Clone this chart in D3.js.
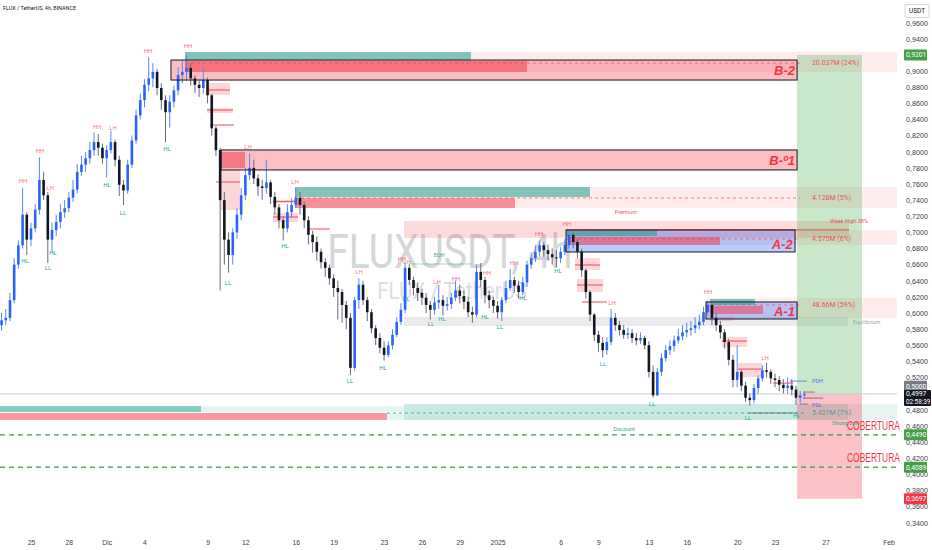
<!DOCTYPE html>
<html><head><meta charset="utf-8">
<script src="https://cdn.jsdelivr.net/npm/d3@7"></script>
<style>body{margin:0;background:#fff;} svg{display:block;font-family:Roboto,"Liberation Sans",sans-serif;}</style>
</head><body><svg id="c" width="932" height="550"></svg>
<script>
// ---------- DATA ----------
const title = "FLUX / TetherUS, 4h, BINANCE";
const candleStart = new Date(2024,10,22,16);   // first 8h candle
const candleStepHours = 8;
const firstOpen = 0.585;
const closes = [
.591,.594,.616,.660,.684,.722,.691,.705,.728,.765,
.746,.691,.703,.713,.725,.730,.743,.753,.775,.784,
.792,.802,.812,.805,.792,.802,.812,.790,.759,.752,
.784,.814,.845,.864,.883,.891,.899,.879,.864,.849,
.862,.876,.895,.899,.904,.891,.883,.879,.889,.870,
.829,.802,.740,.691,.672,.700,.722,.746,.771,.780,
.767,.757,.755,.762,.744,.731,.715,.705,.725,.734,
.743,.734,.715,.697,.688,.676,.663,.656,.643,.631,
.626,.610,.594,.532,.616,.635,.616,.601,.581,.569,
.557,.548,.560,.573,.589,.604,.656,.641,.631,.625,
.619,.610,.604,.613,.616,.609,.611,.619,.628,.621,
.614,.601,.598,.651,.641,.622,.616,.609,.601,.616,
.631,.641,.634,.626,.638,.660,.668,.676,.684,.678,
.673,.669,.668,.676,.684,.697,.688,.676,.653,.626,
.598,.573,.563,.554,.564,.594,.585,.579,.573,.575,
.569,.566,.569,.560,.527,.498,.527,.544,.554,.559,
.566,.571,.576,.579,.581,.585,.589,.601,.610,.594,
.585,.576,.564,.542,.517,.527,.510,.495,.492,.507,
.519,.529,.527,.519,.517,.511,.507,.510,.505,.495,
.498,.4997];
const highs = [
.600,.605,.625,.668,.690,.755,.725,.712,.735,.793,
.775,.750,.712,.722,.735,.740,.750,.765,.785,.795,
.800,.812,.824,.822,.810,.808,.826,.815,.795,.765,
.790,.820,.852,.872,.890,.917,.910,.903,.885,.870,
.870,.882,.905,.912,.920,.910,.895,.888,.905,.892,
.872,.832,.805,.750,.700,.705,.730,.755,.780,.798,
.790,.772,.765,.790,.765,.750,.735,.720,.735,.742,
.755,.750,.738,.720,.702,.695,.680,.668,.660,.648,
.640,.630,.615,.600,.620,.643,.640,.620,.605,.585,
.575,.565,.565,.580,.595,.612,.663,.660,.645,.638,
.630,.625,.615,.620,.635,.622,.620,.625,.640,.635,
.628,.620,.608,.660,.662,.645,.628,.620,.615,.620,
.640,.655,.645,.640,.645,.665,.675,.684,.690,.688,
.685,.680,.678,.682,.692,.701,.700,.692,.680,.655,
.628,.600,.578,.570,.570,.605,.600,.590,.585,.582,
.580,.575,.576,.572,.565,.535,.532,.550,.560,.566,
.572,.580,.585,.588,.590,.595,.598,.608,.615,.612,
.600,.590,.580,.568,.548,.560,.530,.515,.500,.512,
.523,.535,.538,.530,.525,.522,.518,.520,.518,.510,
.503,.503];
const lows = [
.578,.585,.590,.612,.655,.680,.672,.683,.700,.722,
.740,.662,.675,.695,.705,.718,.725,.738,.748,.770,
.775,.785,.795,.795,.785,.768,.798,.782,.745,.734,
.748,.780,.810,.840,.855,.875,.880,.870,.852,.812,
.830,.855,.870,.885,.888,.882,.873,.868,.872,.860,
.820,.795,.628,.660,.650,.660,.692,.715,.740,.765,
.760,.745,.740,.748,.735,.722,.705,.690,.700,.718,
.730,.722,.705,.685,.675,.665,.655,.645,.635,.620,
.592,.588,.580,.523,.528,.605,.610,.590,.575,.560,
.550,.541,.545,.555,.570,.585,.600,.635,.622,.615,
.610,.600,.592,.598,.605,.597,.603,.605,.615,.612,
.605,.595,.588,.595,.632,.612,.606,.600,.593,.590,
.612,.628,.625,.618,.622,.632,.655,.663,.670,.670,
.665,.660,.657,.662,.672,.680,.680,.668,.645,.618,
.590,.565,.552,.545,.548,.560,.578,.572,.568,.568,
.563,.560,.562,.555,.520,.495,.497,.522,.540,.548,
.552,.562,.566,.570,.572,.575,.580,.585,.598,.585,
.578,.568,.556,.535,.508,.508,.503,.490,.485,.488,
.500,.515,.520,.512,.508,.503,.500,.500,.498,.486,
.488,.494];

// Time axis
const tickDates = [[2024,10,25],[2024,10,28],[2024,11,1],[2024,11,4],[2024,11,9],[2024,11,12],[2024,11,16],[2024,11,19],[2024,11,23],[2024,11,26],[2024,11,29],[2025,0,1],[2025,0,6],[2025,0,9],[2025,0,13],[2025,0,16],[2025,0,20],[2025,0,23],[2025,0,27],[2025,1,1]];
const tickLabels = ["25","28","Dic","4","9","12","16","19","23","26","29","2025","6","9","13","16","20","23","27","Feb"];
const priceTicks = d3.range(17, 49).map(k => k*0.02);

// zones: [dayFrom, dayTo, priceTop, priceBottom] (days from 25 Nov 2024)
const pinkBands = [[12.21,68.67,0.9237,0.8989],[20.94,68.67,0.7563,0.7303],[42.43,68.67,0.7030,0.6844],[53.53,68.67,0.6187,0.5939]];
const premiumBand = [[29.58,64.87,0.7141,0.6931]];
const discountBand = [[29.58,64.79,0.4871,0.4673]];
const discountExt = [[64.79,68.67,0.4871,0.4673],[13.48,29.58,0.4846,0.4772],[28.23,29.58,0.4760,0.4673]];
const equilibrium = [[29.58,64.79,0.5951,0.5839]];
const pinkBoxes = [[11.10,60.75,0.9137,0.8889],[15.07,60.75,0.8022,0.7774]];
const blueBoxes = [[42.43,60.59,0.7030,0.6757],[53.53,60.75,0.6137,0.5926]];
const tealBars = [[12.21,34.89,0.9237,0.9137],[20.94,44.33,0.7563,0.7439],[42.43,49.64,0.7030,0.6956],[53.85,57.41,0.6174,0.6100],[-2.46,13.48,0.4846,0.4772]];
const redBars = [[12.21,39.33,0.9125,0.8989],[20.94,38.38,0.7427,0.7303],[42.74,54.64,0.6943,0.6844],[53.85,58.05,0.6088,0.5988],[-2.46,28.23,0.4760,0.4673],[15.07,16.97,0.7998,0.7799]];
const obRects = [[13.96,15.78,0.8852,0.8704],[13.96,16.02,0.8542,0.8480],[15.0,16.57,0.7774,0.7278],[19.19,21.09,0.7402,0.7365],[19.19,21.17,0.7241,0.7129],[43.14,45.12,0.6683,0.6534],[43.30,45.36,0.6422,0.6261],[53.85,55.67,0.5951,0.5902],[54.80,56.78,0.5703,0.5578],[56.07,57.97,0.5380,0.5206]];
const obLines = [[13.96,15.78,0.8766],[13.96,16.02,0.8517],[14.19,16.10,0.8331],[14.67,16.57,0.7625],[19.19,21.09,0.7383],[19.19,21.17,0.7191],[21.89,23.71,0.7042],[43.14,45.12,0.6596],[43.30,45.36,0.6348],[43.69,45.68,0.6137],[54.80,56.78,0.5653],[56.07,57.97,0.5305],[58.84,60.43,0.5131],[61.22,62.17,0.5020],[42.43,64.87,0.7030]];
const volLines = [[12.21,61.0,0.9100],[20.94,61.0,0.7427],[42.43,61.0,0.6918],[53.53,61.0,0.6100]];
const volTexts = ["20.037M (24%)","4.128M (5%)","4.575M (6%)","48.66M (59%)"];
const lowLine = [[28.23,61.5,0.4760]]; const lowText = "5.427M (7%)";
const textDay = 61.93;
const coverLevels = [0.4490, 0.4089];
const coverTextPrices = [0.4600, 0.4203];
const position = {from:60.75, to:65.90, target:0.9201, entry:0.5000, stop:0.3697};
const lastPrice = 0.4997, countdown = "02:58:39";
const zoneNames = [["B-2",60.59,0.9013],["B-º1",60.59,0.7898],["A-2",60.40,0.6856],["A-1",60.59,0.6026]];
const highLabels = [["HH",-0.63,0.7637],["LH",1.51,0.7550],["HH",0.71,0.8009],["HH",5.23,0.8307],["LH",6.50,0.8294],["HH",9.28,0.9249],["HH",12.45,0.9311],["LH",17.21,0.8059],["LH",20.94,0.7625],["LH",26.01,0.6509],["HH",29.42,0.6670],["LH",29.82,0.6633],["LH",32.20,0.6385],["HH",33.70,0.6422],["HH",36.16,0.6497],["HH",38.30,0.6621],["HH",40.29,0.6981],["HH",42.51,0.7104],["LH",46.08,0.6125],["HH",53.69,0.6261],["LH",58.21,0.5442]];
const lowLabels = [["HL",-0.48,0.6645],["LL",1.35,0.6558],["HL",1.74,0.6744],["HL",6.03,0.7588],["LL",7.30,0.7240],["HL",10.79,0.8034],["LL",15.62,0.6372],["HL",20.14,0.6831],["LL",25.30,0.5156],["HL",27.91,0.5318],["HL",29.74,0.6174],["LL",31.72,0.5864],["HL",32.59,0.5926],["HL",36.00,0.5951],["LL",37.19,0.5827],["HL",39.01,0.6187],["HL",41.79,0.6521],["LL",45.36,0.5368],["LL",49.25,0.4871],["LL",56.86,0.4697],["HL",60.75,0.4722]];
const smallTexts = [["Premium",47.18,0.7250,"#f23645","middle"],["Weak High 38%",64.87,0.7141,"#f23645","middle"],["Equilibrium",65.19,0.5889,"#9598a1","start"],["Discount",47.03,0.4562,"#089981","middle"],["Strong Low",63.52,0.4637,"#089981","start"],["EQH",32.36,0.6720,"#089981","middle"],["PDH",61.93,0.5156,"#2962ff","start"],["PDL",61.93,0.4858,"#2962ff","start"]];
const eqhLine = [[29.90,34.97,0.6608]];
const pdLines = [[60.19,61.54,0.5156],[60.98,61.62,0.4871]];
const grayLines = [[61.22,62.81,0.4945],[56.86,60.75,0.4760]];

// ---------- SCALES ----------
const W = 932, H = 550, plotR = 897;
const base = new Date(2024,10,25);
const D = d => new Date(base.getTime() + d*864e5);
const x = d3.scaleTime().domain([D(-2.458), D(68.675)]).range([0, plotR]);
const y = d3.scaleLinear().domain([0.34, 0.96]).range([522.7, 22.7]);
const X = d => x(D(d));

const svg = d3.select("#c");
svg.append("rect").attr("width",W).attr("height",H).attr("fill","#fff");
const plot = svg.append("g");

// watermark
plot.append("text").attr("x",X(33.2)).attr("y",y(0.6555)).attr("text-anchor","middle")
  .attr("font-size",48).attr("textLength",245).attr("lengthAdjust","spacingAndGlyphs")
  .attr("fill","#787b86").attr("opacity",0.3).text("FLUXUSDT, 4h");
plot.append("text").attr("x",X(33.4)).attr("y",y(0.6180)).attr("text-anchor","middle")
  .attr("font-size",24).attr("textLength",150).attr("lengthAdjust","spacingAndGlyphs")
  .attr("fill","#787b86").attr("opacity",0.25).text("FLUX / TetherUS");

function rects(data, fill, stroke) {
  plot.append("g").selectAll("rect").data(data).join("rect")
    .attr("x", d => X(d[0])).attr("width", d => X(d[1]) - X(d[0]))
    .attr("y", d => y(d[2])).attr("height", d => y(d[3]) - y(d[2]))
    .attr("fill", fill).attr("stroke", stroke || "none").attr("stroke-width", 1);
}
function hlines(data, color, dash, w) {
  plot.append("g").selectAll("line").data(data).join("line")
    .attr("x1", d => X(d[0])).attr("x2", d => X(d[1]))
    .attr("y1", d => y(d[2])).attr("y2", d => y(d[2]))
    .attr("stroke", color).attr("stroke-width", w || 1).attr("stroke-dasharray", dash || null);
}

rects(pinkBands, "rgba(242,54,69,0.10)");
rects(premiumBand, "rgba(242,54,69,0.18)");
rects(equilibrium, "rgba(120,123,134,0.15)");
rects(discountBand, "rgba(8,153,129,0.22)");
rects(discountExt, "rgba(8,153,129,0.10)");
rects(pinkBoxes, "rgba(242,54,69,0.32)");
rects(blueBoxes, "rgba(41,98,255,0.32)");
rects(tealBars, "rgba(8,153,129,0.5)");
rects(redBars, "rgba(242,54,69,0.5)");
rects(obRects, "rgba(242,54,69,0.2)");
hlines(obLines, "rgba(242,54,69,0.75)", null, 1.2);
hlines(eqhLine, "rgba(8,153,129,0.35)");
hlines(pdLines, "#5b86f5");
hlines(grayLines, "#787b86");

// position tool
plot.append("rect").attr("x",X(position.from)).attr("width",X(position.to)-X(position.from))
  .attr("y",y(position.target)).attr("height",y(position.entry)-y(position.target)).attr("fill","rgba(76,175,80,0.3)");
plot.append("rect").attr("x",X(position.from)).attr("width",X(position.to)-X(position.from))
  .attr("y",y(position.entry)).attr("height",y(position.stop)-y(position.entry)).attr("fill","rgba(242,54,69,0.3)");

// price line
plot.append("line").attr("x1",0).attr("x2",plotR).attr("y1",y(lastPrice)).attr("y2",y(lastPrice)).attr("stroke","#c9cbd1");

// coverage lines
hlines(coverLevels.map(p => [-2.46, 68.67, p]), "#2e9e4a", "5,4", 1.3);
rects([[-2.46,68.67,0.4490,0.4490]], "none");

hlines(volLines, "rgba(242,54,69,0.6)", "3,3");
hlines(lowLine, "rgba(8,153,129,0.7)", "3,3");
plot.append("g").selectAll("text").data(volLines).join("text")
  .attr("x", X(textDay)).attr("y", d => y(d[2])).attr("dy","0.35em")
  .attr("font-size",7).attr("fill","rgba(242,54,69,0.85)").text((d,i) => volTexts[i]);
plot.append("text").attr("x",X(textDay)).attr("y",y(lowLine[0][2])).attr("dy","0.35em")
  .attr("font-size",7).attr("fill","#4f9a8c").text(lowText);

// candles
const candles = closes.map((c,i) => {
  const o = i === 0 ? firstOpen : closes[i-1];
  return {t: new Date(candleStart.getTime() + i*candleStepHours*36e5), o, c,
          h: Math.max(highs[i], o, c), l: Math.min(lows[i], o, c)};
});
const cg = plot.append("g");
cg.selectAll("line").data(candles).join("line")
  .attr("x1", d => x(d.t)).attr("x2", d => x(d.t))
  .attr("y1", d => y(d.h)).attr("y2", d => y(d.l))
  .attr("stroke", d => d.c >= d.o ? "#5b86f5" : "#6a6d78").attr("stroke-width", 1);
cg.selectAll("rect").data(candles).join("rect")
  .attr("x", d => x(d.t) - 1.3).attr("width", 2.6)
  .attr("y", d => y(Math.max(d.o,d.c))).attr("height", d => Math.max(1, Math.abs(y(d.o)-y(d.c))))
  .attr("fill", d => d.c >= d.o ? "#2962ff" : "#131722");

// structure labels
plot.append("g").selectAll("text").data(highLabels).join("text")
  .attr("x", d => X(d[1])).attr("y", d => y(d[2])).attr("dy","0.35em").attr("text-anchor","middle")
  .attr("font-size",6).attr("fill","#f7525f").attr("opacity",0.8).text(d => d[0]);
plot.append("g").selectAll("text").data(lowLabels).join("text")
  .attr("x", d => X(d[1])).attr("y", d => y(d[2])).attr("dy","0.35em").attr("text-anchor","middle")
  .attr("font-size",6).attr("fill","#22ab94").text(d => d[0]);
plot.append("g").selectAll("text").data(smallTexts).join("text")
  .attr("x", d => X(d[1])).attr("y", d => y(d[2])).attr("dy","0.35em").attr("text-anchor", d => d[4])
  .attr("font-size",5.5).attr("fill", d => d[3]).attr("opacity",0.85).text(d => d[0]);

// outlines (on top)
rects(pinkBoxes, "none", "#131722");
rects(blueBoxes, "none", "#131722");

// zone names
plot.append("g").selectAll("text").data(zoneNames).join("text")
  .attr("x", d => X(d[1])).attr("y", d => y(d[2])).attr("dy","0.36em").attr("text-anchor","end")
  .attr("font-size",13).attr("font-weight","bold").attr("font-style","italic")
  .attr("font-family","'Liberation Sans',Arial,sans-serif").attr("fill","#f23645").text(d => d[0]);

// COBERTURA
plot.append("g").selectAll("text").data(coverTextPrices).join("text")
  .attr("x", X(64.71)).attr("y", d => y(d)).attr("dy","0.36em")
  .attr("font-size",12.5).attr("textLength",53).attr("lengthAdjust","spacingAndGlyphs")
  .attr("font-family","'Liberation Sans Narrow','Liberation Sans',sans-serif").attr("fill","#f23645").text("COBERTURA");

// title
svg.append("text").attr("x",3).attr("y",10).attr("font-size",6.2).attr("textLength",73)
  .attr("lengthAdjust","spacingAndGlyphs").attr("fill","#131722").text(title);

// ---------- AXES ----------
const fmt = v => d3.format(".4f")(v).replace(".", ",");
const yAxis = svg.append("g").attr("transform",`translate(${plotR+6},0)`)
  .call(d3.axisRight(y).tickValues(priceTicks.filter(v => Math.abs(v-0.92)>0.001 && Math.abs(v-0.50)>0.001)).tickFormat(fmt).tickSize(0));
yAxis.select(".domain").remove();
yAxis.selectAll("text").attr("font-size",7.2).attr("fill","#3a3d47").attr("x",3);

const xAxis = svg.append("g").attr("transform",`translate(0,537)`)
  .call(d3.axisBottom(x).tickValues(tickDates.map(a => new Date(a[0],a[1],a[2]))).tickFormat((d,i) => tickLabels[i]).tickSize(0));
xAxis.select(".domain").remove();
xAxis.selectAll("text").attr("font-size",6.8).attr("fill","#3a3d47");

// USDT box
svg.append("rect").attr("x",905).attr("y",4.5).attr("width",24).attr("height",13).attr("rx",2)
  .attr("fill","#fff").attr("stroke","#d1d4dc");
svg.append("text").attr("x",917).attr("y",11).attr("dy","0.35em").attr("text-anchor","middle")
  .attr("font-size",6.5).attr("fill","#131722").text("USDT");

// axis labels
function axisLabel(p, txt, bg, off) {
  const cy = y(p) + (off || 0);
  svg.append("rect").attr("x",904).attr("y",cy-5.5).attr("width",23).attr("height",11).attr("rx",1).attr("fill",bg);
  svg.append("text").attr("x",906).attr("y",cy).attr("dy","0.35em").attr("font-size",6.8).attr("fill","#fff").text(txt);
}
axisLabel(position.target, fmt(position.target), "#43a047");
axisLabel(coverLevels[0], fmt(coverLevels[0]), "#43a047");
axisLabel(coverLevels[1], fmt(coverLevels[1]), "#43a047");
axisLabel(position.stop, fmt(position.stop), "#f23645");
axisLabel(position.entry, fmt(position.entry), "#787b86", -7.5);
svg.append("rect").attr("x",904).attr("y",y(lastPrice)-4).attr("width",27).attr("height",16).attr("rx",1).attr("fill","#131722");
svg.append("text").attr("x",906).attr("y",y(lastPrice)).attr("dy","0.35em").attr("font-size",6.8).attr("fill","#fff").text(fmt(lastPrice));
svg.append("text").attr("x",906).attr("y",y(lastPrice)+7.5).attr("dy","0.35em").attr("font-size",6.3).attr("fill","#fff").text(countdown);
</script>
</body></html>
